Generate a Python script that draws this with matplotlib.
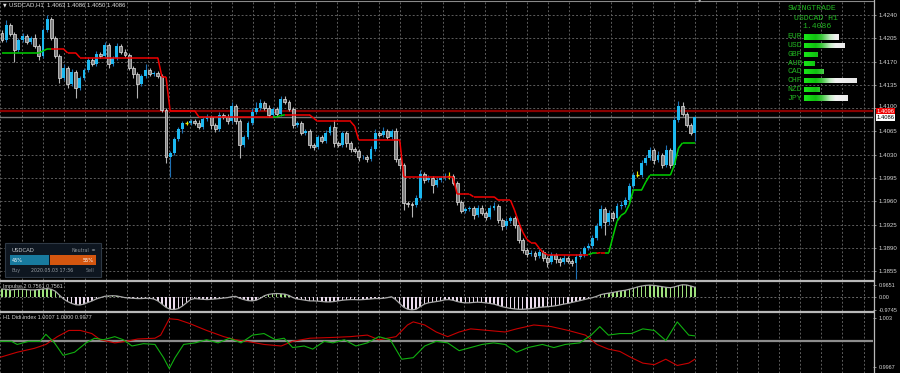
import matplotlib
matplotlib.use("Agg")
import matplotlib.pyplot as plt
import numpy as np
from matplotlib.colors import LinearSegmentedColormap
from matplotlib.collections import LineCollection
from matplotlib.patches import Rectangle, Circle
from matplotlib.lines import Line2D
from matplotlib.transforms import ScaledTranslation

# ---- values (prices in pips, 1 pip = 0.0001) ----
first_open = 14213
close_pips = [
    14203, 14225, 14212, 14188, 14203, 14209, 14200, 14206, 14194, 14179,
    14218, 14234, 14206, 14179, 14146, 14161, 14137, 14155, 14131, 14146,
    14158, 14173, 14167, 14182, 14179, 14195, 14167, 14176, 14194, 14185,
    14180, 14161, 14152, 14137, 14149, 14158, 14152, 14153, 14149, 14098,
    14026, 14033, 14053, 14068, 14077, 14077, 14080, 14078, 14071, 14083,
    14086, 14074, 14068, 14090, 14086, 14080, 14104, 14080, 14045, 14056,
    14077, 14095, 14101, 14108, 14101, 14090, 14099, 14092, 14114, 14110,
    14099, 14074, 14077, 14063, 14066, 14044, 14042, 14056, 14051, 14063,
    14071, 14047, 14045, 14062, 14047, 14038, 14035, 14026, 14027, 14023,
    14039, 14063, 14059, 14066, 14057, 14065, 14023, 14015, 13958, 13956,
    13955, 13965, 14001, 13992, 13995, 13985, 13992, 13995, 13998, 13998,
    13988, 13959, 13946, 13949, 13950, 13940, 13950, 13943, 13937, 13950,
    13953, 13932, 13923, 13931, 13935, 13925, 13902, 13887, 13881, 13883,
    13878, 13884, 13875, 13869, 13880, 13873, 13869, 13875, 13871, 13868,
    13877, 13881, 13890, 13893, 13905, 13923, 13949, 13929, 13943, 13935,
    13953, 13955, 13962, 13983, 14000, 14000, 14018, 14025, 14037, 14022,
    14030, 14015, 14037, 14015, 14082, 14104, 14092, 14075, 14063, 14086,
]
up_wick = [
    4, 7, 3, 3, 3, 4, 3, 3, 5, 3,
    3, 6, 3, 3, 3, 5, 3, 4, 3, 3,
    3, 4, 3, 4, 3, 5, 3, 3, 4, 3,
    4, 3, 3, 3, 3, 8, 3, 3, 3, 3,
    3, 3, 4, 4, 3, 4, 3, 3, 4, 4,
    5, 3, 3, 4, 3, 5, 5, 3, 3, 3,
    4, 5, 9, 6, 3, 4, 3, 3, 4, 5,
    3, 3, 4, 3, 3, 3, 3, 4, 3, 4,
    4, 11, 3, 4, 3, 3, 3, 3, 3, 3,
    4, 5, 3, 6, 3, 4, 5, 3, 3, 3,
    3, 4, 6, 3, 4, 3, 4, 3, 5, 6,
    3, 3, 3, 3, 3, 3, 4, 5, 3, 4,
    6, 3, 3, 4, 3, 3, 3, 3, 3, 4,
    3, 5, 3, 3, 4, 3, 3, 4, 3, 3,
    4, 4, 3, 4, 5, 4, 6, 3, 4, 3,
    4, 5, 4, 4, 4, 5, 4, 4, 5, 3,
    6, 3, 8, 3, 4, 7, 6, 3, 3, 0,
]
down_wick = [
    4, 3, 3, 18, 3, 4, 4, 3, 3, 6,
    3, 3, 3, 4, 8, 3, 6, 3, 16, 4,
    3, 3, 4, 3, 4, 3, 6, 3, 3, 4,
    3, 4, 6, 22, 4, 3, 4, 3, 3, 3,
    8, 30, 3, 3, 6, 3, 3, 3, 3, 3,
    3, 5, 4, 3, 3, 4, 3, 4, 20, 4,
    3, 3, 3, 3, 3, 4, 3, 3, 3, 3,
    3, 4, 3, 4, 3, 4, 5, 3, 4, 3,
    3, 5, 4, 3, 5, 4, 3, 5, 3, 4,
    3, 3, 3, 3, 4, 3, 4, 6, 11, 5,
    18, 4, 3, 4, 3, 12, 3, 3, 3, 4,
    3, 5, 4, 3, 3, 6, 3, 4, 5, 3,
    3, 4, 6, 3, 4, 5, 4, 5, 4, 3,
    6, 3, 5, 8, 3, 5, 6, 3, 4, 5,
    24, 3, 4, 3, 3, 3, 3, 19, 4, 5,
    3, 4, 3, 3, 3, 4, 3, 3, 3, 6,
    3, 5, 3, 5, 3, 3, 3, 4, 3, 13,
]
# trailing stop line and its colour per bar (G = up, R = down)
stop_pips = [
    14183, 14183, 14183, 14183, 14183, 14183, 14183, 14183, 14183, 14183,
    14186, 14189, 14189, 14189, 14189, 14189, 14183, 14183, 14183, 14176,
    14176, 14176, 14176, 14176, 14176, 14176, 14176, 14176, 14176, 14176,
    14176, 14176, 14176, 14176, 14176, 14176, 14176, 14176, 14176, 14147,
    14147, 14096, 14096, 14096, 14096, 14096, 14096, 14096, 14087, 14087,
    14087, 14087, 14087, 14087, 14087, 14087, 14087, 14087, 14087, 14087,
    14087, 14087, 14087, 14087, 14087, 14087, 14087, 14087, 14089, 14090,
    14090, 14090, 14090, 14090, 14090, 14090, 14085, 14080, 14080, 14080,
    14080, 14080, 14080, 14080, 14080, 14080, 14073, 14052, 14052, 14052,
    14052, 14052, 14052, 14052, 14052, 14052, 14052, 14052, 13997, 13997,
    13997, 13997, 13997, 13997, 13997, 13997, 13997, 13997, 13997, 13997,
    13997, 13971, 13971, 13971, 13971, 13967, 13967, 13967, 13967, 13967,
    13967, 13962, 13962, 13962, 13962, 13947, 13929, 13914, 13903, 13898,
    13898, 13890, 13883, 13880, 13880, 13880, 13880, 13880, 13880, 13880,
    13880, 13880, 13880, 13880, 13882, 13882, 13883, 13883, 13883, 13907,
    13930, 13939, 13943, 13955, 13977, 13977, 13977, 13989, 13999, 13999,
    13999, 13999, 13999, 13999, 14015, 14040, 14048, 14048, 14048, 14048,
]
trend = ("GGGGGGGGGG" "GGGRRRRRRR" "RRRRRRRRRR" "RRRRRRRRRR" "RRRRRRRRRR"
         "RRRRRRRRRR" "RRRRRRRGGG" "RRRRRRRRRR" "RRRRRRRRRR" "RRRRRRRRRR"
         "RRRRRRRRRR" "RRRRRRRRRR" "RRRRRRRRRR" "RRRRRRRRRR" "RRRRGGRRGG"
         "GGGGGGGGGG" "GGGGGGGGGG")
impulse = [
    0.62, 0.60, 0.55, 0.58, 0.60, 0.60, 0.57, 0.55, 0.55, 0.58,
    0.62, 0.65, 0.60, 0.45, 0.15, -0.15, -0.35, -0.50, -0.60, -0.62,
    -0.55, -0.42, -0.30, -0.15, -0.05, 0.05, 0.08, 0.10, 0.08, 0.02,
    -0.05, -0.08, -0.10, -0.12, -0.12, -0.10, -0.10, -0.15, -0.30, -0.55,
    -0.80, -0.95, -0.97, -0.90, -0.70, -0.45, -0.20, -0.12, -0.15, -0.18,
    -0.20, -0.18, -0.15, -0.12, -0.08, -0.05, 0.02, 0.05, -0.10, -0.20,
    -0.28, -0.30, -0.25, -0.10, 0.10, 0.20, 0.25, 0.27, 0.25, 0.22,
    0.12, -0.05, -0.15, -0.20, -0.25, -0.30, -0.30, -0.32, -0.35, -0.38,
    -0.38, -0.35, -0.30, -0.25, -0.22, -0.20, -0.20, -0.22, -0.20, -0.18,
    -0.15, -0.12, -0.12, -0.10, -0.05, 0.02, -0.20, -0.50, -0.80, -0.95,
    -1.00, -0.95, -0.75, -0.55, -0.45, -0.40, -0.35, -0.30, -0.22, -0.20,
    -0.25, -0.35, -0.42, -0.45, -0.45, -0.42, -0.40, -0.42, -0.45, -0.50,
    -0.55, -0.65, -0.75, -0.82, -0.88, -0.92, -0.95, -0.95, -0.93, -0.90,
    -0.85, -0.80, -0.78, -0.75, -0.72, -0.68, -0.62, -0.55, -0.50, -0.42,
    -0.35, -0.28, -0.20, -0.12, -0.05, 0.05, 0.18, 0.25, 0.30, 0.35,
    0.42, 0.48, 0.52, 0.60, 0.68, 0.78, 0.85, 0.90, 0.92, 0.90,
    0.85, 0.80, 0.75, 0.72, 0.78, 0.88, 0.95, 0.93, 0.85, 0.7561,
]
# Didi index: bar position and deviation from 1.0000 in 0.0001 units
didi_red_bar = [-0.5, 3.7, 7.9, 10.7, 13.5, 16.3, 19.1, 21.9, 24, 27.5,
                30.3, 33.1, 37.3, 38.7, 40.8, 42.9, 45.7, 49.9, 54.1, 56.9,
                59.7, 63.9, 68.1, 70.9, 75.1, 80.7, 84.9, 89.1, 91.9, 96.1,
                98.9, 100.3, 103.1, 105.9, 108.7, 111.5, 114.3, 118.5, 122.7, 125.5,
                129.7, 133.9, 138.1, 142.3, 145.1, 147.9, 150.7, 153.5, 156.3, 159.1,
                161.9, 164.7, 167.5, 169]
didi_red = [-20.6, -14, -9, -4, 6, 14, 14, 10, 2, -2,
            0, 3, 4, 8, 29, 28, 23, 14, 6, 2,
            0, -4, -6, 0, 4, 5, 6, 8, 2, 6,
            21, 25, 21, 12, 6, 12, 16, 14, 12, 16,
            21, 19, 14, 8, -4, -10, -13, -21, -28, -30,
            -23, -31, -28, -23]
didi_green_bar = [-0.5, 2.3, 3.7, 6.5, 9.3, 10.7, 12.8, 14.9, 17.7, 20.5,
                  22.6, 24.7, 27.5, 29.6, 31.7, 34.5, 37.3, 39.4, 40.8, 42.2,
                  44.3, 47.1, 49.9, 52.7, 55.5, 58.3, 61.1, 63.9, 66.7, 68.8,
                  70.9, 73.7, 75.8, 78.6, 80.7, 83.5, 86.3, 89.1, 91.9, 94.7,
                  97.5, 100.3, 103.1, 105.9, 108.7, 111.5, 114.3, 117.1, 119.9, 122.7,
                  125.5, 128.3, 131.8, 134.6, 137.4, 140.9, 143.7, 145.8, 147.9, 150.7,
                  153.5, 156.3, 159.1, 161.9, 164.7, 167.5, 169]
didi_green = [0, 0, -4, 0, 0, 9, -2, -18, -14, -2,
              4, 2, 6, 2, -6, -3, -4, -21, -35, -21,
              -4, -2, 2, -2, 4, -2, 8, 10, 2, 4,
              -8, -6, -10, 0, -2, 2, -6, -2, 6, 2,
              -23, -21, -6, 0, -2, -12, -8, -4, -2, -4,
              -14, -8, -4, -8, -4, -2, 8, 19, 8, 10,
              10, 16, 14, 1, 25, 8, 7]

price_levels = [1.4240, 1.4205, 1.4170, 1.4135, 1.4100, 1.4065,
                1.4030, 1.3995, 1.3960, 1.3925, 1.3890, 1.3855]
bid_price = 1.4086
ask_price = 1.4096
currencies = ["EUR", "USD", "GBP", "AUD", "CAD", "CHF", "NZD", "JPY"]
strength = [6.6, 7.7, 2.5, 1.9, 3.6, 10.0, 3.0, 8.3]
buy_pct, sell_pct = 45, 55

W, H = 900, 373
SANS = ["Liberation Sans", "DejaVu Sans"]
MONO = ["Liberation Mono", "DejaVu Sans Mono"]


def box(x0, y0, x1, y1):
    return [x0 / W, 1 - y1 / H, (x1 - x0) / W, (y1 - y0) / H]


def ftext(x, y, s, **kw):
    fig.text(x / W, 1 - y / H, s, **kw)


fig = plt.figure(figsize=(9.0, 3.73), dpi=100)
fig.patch.set_facecolor("black")

ax = fig.add_axes(box(0, 0, 873, 280))
ax2 = fig.add_axes(box(0, 282, 873, 311))
ax3 = fig.add_axes(box(0, 313, 873, 373))

vgrid = np.arange(-0.37, 212.4, 21.05 / 4.1)
for a in (ax, ax2, ax3):
    a.set_facecolor("black")
    for s in a.spines.values():
        s.set_visible(False)
    a.set_xlim(-0.49, 212.44)
    a.set_xticks(vgrid)
    a.tick_params(axis="x", length=0, labelbottom=False)
    a.grid(axis="x", color="#5c5c5c", linestyle=(0, (2, 2)), linewidth=0.7)
    a.set_axisbelow(True)
    a.yaxis.tick_right()
    a.tick_params(axis="y", length=2, width=0.6, color="#a0a0a0",
                  labelcolor="#d4d4d4", pad=1.8)

# ---- main price panel ----
cl = np.array(close_pips)
op = np.concatenate([[first_open], cl[:-1]])
hi = np.maximum(op, cl) + np.array(up_wick)
lo = np.minimum(op, cl) - np.array(down_wick)
idx = np.arange(len(cl))
bull = cl > op
bear = cl < op
doji = cl == op

ax.vlines(idx[bull], lo[bull] / 1e4, hi[bull] / 1e4, color="#1f70b4", lw=0.8, zorder=3)
ax.vlines(idx[bear], lo[bear] / 1e4, hi[bear] / 1e4, color="#b4b4b4", lw=0.8, zorder=3)
ax.vlines(idx[doji], lo[doji] / 1e4, hi[doji] / 1e4, color="#e8e800", lw=0.8, zorder=3)
ax.bar(idx[bull], (cl - op)[bull] / 1e4, bottom=op[bull] / 1e4, width=0.7,
       color="#1cb8f0", edgecolor="none", zorder=4)
ax.bar(idx[bear], (cl - op)[bear] / 1e4, bottom=op[bear] / 1e4, width=0.7,
       color="#7c7c7c", edgecolor="#e4e4e4", linewidth=0.5, zorder=4)
ax.hlines(op[doji] / 1e4, idx[doji] - 0.38, idx[doji] + 0.38, color="#e8e800", lw=1, zorder=4)

st = np.array(stop_pips) / 1e4
segs = [[(i - 1, st[i - 1]), (i, st[i])] for i in range(1, len(st))]
cols = ["#00d000" if trend[i] == "G" else "#f00000" for i in range(1, len(st))]
ax.add_collection(LineCollection(segs, colors=cols, linewidths=1.1, zorder=5))

ax.axhline(ask_price, color="#8a0000", lw=1.6, zorder=2)
ax.axhline(bid_price, color="#787878", lw=1.0, zorder=2)

ax.set_ylim(1.38419, 1.42625)
ax.set_yticks(price_levels)
ax.set_yticklabels([f"{p:.4f}" for p in price_levels], fontsize=4.4, family=SANS)
ax.grid(axis="y", color="#5c5c5c", linestyle=(0, (2, 2)), linewidth=0.7)
# the 1.4100 label sits just above the ask box, as in the terminal
for lab in ax.get_yticklabels():
    if lab.get_text() == "1.4100":
        lab.set_transform(lab.get_transform() + ScaledTranslation(0, 2.6 / 100, fig.dpi_scale_trans))

ytr = ax.get_yaxis_transform()
ax.text(1.004, ask_price - 0.00004, f"{ask_price:.4f}", transform=ytr, ha="left", va="center",
        fontsize=4.2, family=SANS, color="white", clip_on=False, zorder=10,
        bbox=dict(boxstyle="square,pad=0.12", fc="#ee0000", ec="none"))
ax.text(1.004, bid_price, f"{bid_price:.4f}", transform=ytr, ha="left", va="center",
        fontsize=4.2, family=SANS, color="black", clip_on=False, zorder=10,
        bbox=dict(boxstyle="square,pad=0.12", fc="white", ec="none"))

# ---- Impulse 2 panel ----
imp = np.array(impulse)
ax2.bar(idx, imp, width=0.35, color=np.where(imp > 0, "#9ee07c", "#ecdcee"), zorder=2)
ax2.plot(idx, imp, color="#a8a8a8", lw=0.9, zorder=3)
ax2.axhline(0, color="#6a6a6a", linestyle=(0, (2, 2)), lw=0.7, zorder=1)
ax2.set_ylim(-1.085, 1.163)
ax2.set_yticks([0.9651, 0.0, -0.9745])
ax2.set_yticklabels(["0.9651", "0.00", "-0.9745"], fontsize=4.0, family=SANS)
ax2.text(3 / 873, 0.93, "Impulse 2 0.7561 0.7561", transform=ax2.transAxes,
         fontsize=3.9, family=SANS, color="#d0d0d0", va="top", ha="left")

# ---- Didi index panel ----
ax3.axhline(0, color="#8c8c8c", lw=1.6, zorder=1)
ax3.plot(didi_red_bar, didi_red, color="#c80000", lw=0.8, zorder=3)
ax3.plot(didi_green_bar, didi_green, color="#10b010", lw=0.8, zorder=3)
ax3.set_ylim(-40.7, 36.4)
ax3.set_yticks([30, -33])
ax3.set_yticklabels(["1.003", "0.9967"], fontsize=4.0, family=SANS)
ax3.text(3 / 873, 0.97, "H1 Didi index 1.0007 1.0000 0.9977", transform=ax3.transAxes,
         fontsize=4.0, family=SANS, color="#d0d0d0", va="top", ha="left")

# ---- frame lines ----
for yy in (281, 312):
    fig.add_artist(Line2D([0, 873 / W], [1 - yy / H] * 2, color="#b8b8b8", lw=1.6))
fig.add_artist(Line2D([873.5 / W] * 2, [0, 1], color="#b8b8b8", lw=0.9))
fig.add_artist(Line2D([0, 873 / W], [1 - 0.6 / H] * 2, color="#8a8a8a", lw=0.8))

# ---- chart title ----
ftext(3, 5, "\u25bc", fontsize=3.4, color="#e0e0e0", va="center", ha="left")
ftext(9, 5, "USDCAD,H1  1.4063 1.4086 1.4050 1.4086", fontsize=4.3, family=SANS,
      color="#e0e0e0", va="center", ha="left")
ftext(700, 1.8, "\u25bc", fontsize=3.2, color="#b0b0b0", va="center", ha="center")

# ---- strength panel (top right) ----
green_txt = "#22b422"
ftext(812, 9, "SWINGTRADE", fontsize=5.9, family=MONO, color=green_txt, ha="center", va="center")
ftext(816, 18, "USDCAD H1", fontsize=5.9, family=MONO, color=green_txt, ha="center", va="center")
ftext(817, 27, "1.4086", fontsize=5.9, family=MONO, color=green_txt, ha="center", va="center")

axc = fig.add_axes(box(804, 32.6, 857, 102.4))
axc.set_axis_off()
cmap = LinearSegmentedColormap.from_list(
    "str", [(0.0, "#18e818"), (0.22, "#10c010"), (0.33, "#3cc83c"),
            (0.5, "#c8ecc8"), (0.6, "#f2f2f2"), (1.0, "#e6e6e6")])
bars = axc.barh(range(len(currencies)), strength, height=0.6, color="none")
grad = np.linspace(0, 1, 256).reshape(1, -1)
for b in bars:
    im = axc.imshow(grad, cmap=cmap, extent=(0, 10, 7.5, -0.5), aspect="auto", zorder=1)
    im.set_clip_path(b)
for i, c in enumerate(currencies):
    axc.text(-0.3, i, c, ha="right", va="center", fontsize=5.9, family=MONO,
             color=green_txt, clip_on=False)
axc.set_xlim(0, 10)
axc.set_ylim(7.5, -0.5)

# ---- sentiment widget (bottom left) ----
fig.add_artist(Rectangle((5 / W, 1 - 277 / H), 96 / W, 34 / H, transform=fig.transFigure,
                         fc="#0e1620", ec="#2e3844", lw=0.8))
ftext(11, 250, "USDCAD", fontsize=3.9, color="#c4c8cc", va="center", ha="left")
ftext(89, 250, "Neutral", fontsize=3.4, color="#8a9096", va="center", ha="right")
fig.add_artist(Circle((93.5 / W, 1 - 250 / H), 1.7 / W, transform=fig.transFigure,
                      fc="#8a9096", ec="none"))
bar_x0, bar_x1 = 10, 96
split = bar_x0 + (bar_x1 - bar_x0) * buy_pct / (buy_pct + sell_pct)
fig.add_artist(Rectangle((bar_x0 / W, 1 - 265 / H), (split - bar_x0) / W, 10 / H,
                         transform=fig.transFigure, fc="#187a9e", ec="none"))
fig.add_artist(Rectangle(((split + 0.8) / W, 1 - 265 / H), (bar_x1 - split - 0.8) / W, 10 / H,
                         transform=fig.transFigure, fc="#d4560f", ec="none"))
ftext(12, 260, f"{buy_pct}%", fontsize=3.6, color="white", va="center", ha="left")
ftext(94, 260, f"{sell_pct}%", fontsize=3.6, color="white", va="center", ha="right")
ftext(12, 270.5, "Buy", fontsize=3.4, color="#7e868e", va="center", ha="left")
ftext(52, 270.5, "2020.05.03 17:36", fontsize=3.4, color="#9aa0a6", va="center", ha="center")
ftext(94, 270.5, "Sell", fontsize=3.4, color="#7e868e", va="center", ha="right")

fig.savefig("out.png", dpi=100, facecolor="black")
